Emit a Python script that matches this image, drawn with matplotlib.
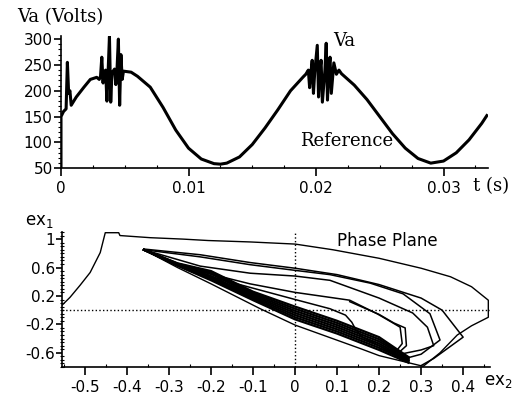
import numpy as np
import matplotlib.pyplot as plt
from matplotlib.ticker import MultipleLocator

# ---- top panel: phase voltage Va ----
t = [0.0, 0.0, 0.0002, 0.0004, 0.0005, 0.0006, 0.0007, 0.0008, 0.0012, 0.0018, 0.0023, 0.0028,
     0.0030, 0.0031, 0.0032, 0.0033, 0.00335, 0.0035, 0.0036, 0.0037, 0.0038, 0.0039, 0.0040,
     0.0042, 0.0043, 0.0044, 0.0045, 0.0046, 0.0047, 0.0048, 0.0049, 0.0055, 0.006, 0.007,
     0.008, 0.009, 0.010, 0.011, 0.012, 0.0125, 0.013, 0.014, 0.015, 0.016, 0.017, 0.018,
     0.0190, 0.0192, 0.0194, 0.0195, 0.0196, 0.0197, 0.0198, 0.0199, 0.0201, 0.0202, 0.0203,
     0.0204, 0.0205, 0.0207, 0.0208, 0.0209, 0.0210, 0.0211, 0.0212, 0.0214, 0.0216, 0.0218,
     0.0220, 0.023, 0.024, 0.025, 0.026, 0.027, 0.028, 0.029, 0.030, 0.031, 0.032, 0.033, 0.0334]
va = [50, 150, 160, 165, 255, 195, 200, 172, 188, 207, 222, 226,
      222, 228, 265, 215, 235, 240, 180, 240, 305, 178, 235,
      242, 212, 245, 300, 172, 270, 222, 238, 236, 228, 207,
      168, 124, 89, 68, 59, 58, 60, 72, 96, 128, 163, 200,
      227, 232, 240, 206, 235, 259, 195, 236, 288, 188, 240,
      259, 178, 240, 292, 182, 240, 265, 195, 254, 232, 240,
      233, 211, 183, 150, 117, 89, 69, 60, 64, 80, 105, 137, 152]

va_ticks = [50, 100, 150, 200, 250, 300]
t_ticks = [0, 0.01, 0.02, 0.03]
t_labels = ['0', '0.01', '0.02', '0.03']

# ---- bottom panel: phase plane trajectories (ex2, ex1) ----
outer_x = [-0.56, -0.536, -0.512, -0.488, -0.464, -0.452, -0.42, -0.417, -0.345, -0.267, -0.207,
           -0.107, 0.0, 0.09, 0.2, 0.3, 0.37, 0.42, 0.46, 0.46, 0.42, 0.386, 0.345, 0.305,
           0.2, 0.155, 0.0, -0.083, -0.2, -0.28, -0.36]
outer_y = [0.04, 0.18, 0.35, 0.53, 0.81, 1.09, 1.09, 1.05, 1.02, 1.0, 0.98,
           0.96, 0.93, 0.85, 0.73, 0.59, 0.47, 0.33, 0.14, -0.1, -0.22, -0.35, -0.6, -0.79,
           -0.64, -0.54, -0.21, 0.02, 0.37, 0.6, 0.85]
a1_x = [-0.36, -0.226, -0.107, 0.0, 0.1, 0.2, 0.3, 0.35, 0.4, 0.33, 0.3]
a1_y = [0.86, 0.78, 0.67, 0.59, 0.5, 0.36, 0.17, 0.0, -0.38, -0.68, -0.78]
a2_x = [-0.36, -0.226, -0.107, 0.0, 0.083, 0.179, 0.257, 0.321, 0.345, 0.3, 0.25]
a2_y = [0.85, 0.75, 0.64, 0.56, 0.5, 0.38, 0.23, -0.05, -0.42, -0.62, -0.7]
b_x = [-0.36, -0.226, -0.107, 0.0, 0.083, 0.2, 0.28, 0.315, 0.33, 0.3, 0.25]
b_y = [0.85, 0.62, 0.52, 0.48, 0.42, 0.17, -0.04, -0.24, -0.5, -0.56, -0.62]
c_x = [-0.36, -0.25, -0.107, 0.0, 0.083, 0.13, 0.195, 0.23, 0.25, 0.255, 0.243, 0.2]
c_y = [0.85, 0.58, 0.37, 0.25, 0.18, 0.14, -0.05, -0.17, -0.24, -0.47, -0.56, -0.55]
c2_x = [0.13, 0.2, 0.235, 0.262, 0.265, 0.25]
c2_y = [0.12, -0.06, -0.18, -0.25, -0.5, -0.58]
d_x = [-0.36, -0.25, -0.107, 0.0, 0.083, 0.12, 0.135, 0.145, 0.16, 0.2, 0.26]
d_y = [0.85, 0.55, 0.32, 0.15, 0.02, -0.07, -0.17, -0.28, -0.38, -0.5, -0.68]
band_x = [-0.36, -0.28, -0.2, -0.1, 0.0, 0.1, 0.2, 0.27]
band_y = [[0.85, 0.66, 0.55, 0.26, 0.05, -0.15, -0.38, -0.66],
          [0.85, 0.655, 0.53, 0.24, 0.02, -0.18, -0.41, -0.67],
          [0.85, 0.65, 0.51, 0.22, -0.01, -0.21, -0.44, -0.68],
          [0.85, 0.64, 0.48, 0.2, -0.04, -0.24, -0.47, -0.7],
          [0.85, 0.635, 0.46, 0.18, -0.07, -0.27, -0.5, -0.71],
          [0.85, 0.63, 0.44, 0.16, -0.1, -0.3, -0.53, -0.72],
          [0.85, 0.625, 0.42, 0.14, -0.13, -0.33, -0.56, -0.74]]

ex1_ticks = [1, 0.6, 0.2, -0.2, -0.6]
ex1_labels = ['1', '0.6', '0.2', '-0.2', '-0.6']
ex2_ticks = [-0.5, -0.4, -0.3, -0.2, -0.1, 0, 0.1, 0.2, 0.3, 0.4]
ex2_labels = ['-0.5', '-0.4', '-0.3', '-0.2', '-0.1', '0', '0.1', '0.2', '0.3', '0.4']

W, H = 523, 397
fig = plt.figure(figsize=(W / 100, H / 100), dpi=100)
serif = 'DejaVu Serif'

# top axes
ax1 = fig.add_axes([61 / W, 1 - 168.3 / H, (488 - 61) / W, (168.3 - 36) / H])
ax1.plot(t, va, color='black', lw=2.2)
ax1.set_xlim(0, 0.03349)
ax1.set_ylim(50, 306)
ax1.set_yticks(va_ticks)
ax1.set_xticks(t_ticks)
ax1.set_xticklabels(t_labels)
ax1.yaxis.set_minor_locator(MultipleLocator(10))
ax1.xaxis.set_minor_locator(MultipleLocator(0.0025))
ax1.tick_params(axis='y', direction='out', length=5, width=1.2, labelsize=11, pad=1)
ax1.tick_params(axis='y', which='minor', direction='out', length=2, width=0.8)
ax1.tick_params(axis='x', direction='out', length=6, width=1.2, labelsize=11, pad=3)
ax1.tick_params(axis='x', which='minor', direction='in', length=2, width=0.8)
for s in ['top', 'right']:
    ax1.spines[s].set_visible(False)
for s in ['left', 'bottom']:
    ax1.spines[s].set_linewidth(1.2)

fig.text(17 / W, 1 - 17 / H, 'Va (Volts)', family=serif, fontsize=13, va='center', ha='left')
fig.text(473 / W, 1 - 186 / H, 't (s)', family=serif, fontsize=13, va='center', ha='left')
fig.text(333 / W, 1 - 41 / H, 'Va', family=serif, fontsize=13, va='center', ha='left')
fig.text(300 / W, 1 - 141 / H, 'Reference', family=serif, fontsize=13, va='center', ha='left')

# bottom axes
ax2 = fig.add_axes([62 / W, 1 - 367 / H, (490 - 62) / W, (367 - 232) / H])
ax2.axhline(0, color='black', ls=':', lw=1.0)
ax2.axvline(0, color='black', ls=':', lw=1.0)
ax2.plot(outer_x, outer_y, color='black', lw=1.0)
for xs, ys in [(a1_x, a1_y), (a2_x, a2_y), (b_x, b_y), (c_x, c_y), (c2_x, c2_y), (d_x, d_y)]:
    ax2.plot(xs, ys, color='black', lw=1.1)
for ys in band_y:
    ax2.plot(band_x, ys, color='black', lw=1.6)
ax2.set_xlim(-0.555, 0.464)
ax2.set_ylim(-0.8, 1.1)
ax2.set_yticks(ex1_ticks)
ax2.set_yticklabels(ex1_labels)
ax2.set_xticks(ex2_ticks)
ax2.set_xticklabels(ex2_labels)
ax2.yaxis.set_minor_locator(MultipleLocator(0.05))
ax2.xaxis.set_minor_locator(MultipleLocator(0.05))
ax2.tick_params(axis='y', direction='out', length=4, width=1.2, labelsize=11, pad=1)
ax2.tick_params(axis='y', which='minor', direction='inout', length=3, width=0.8)
ax2.tick_params(axis='x', direction='out', length=6, width=1.2, labelsize=11, pad=3)
ax2.tick_params(axis='x', which='minor', direction='in', length=2, width=0.8)
for s in ['top', 'right']:
    ax2.spines[s].set_visible(False)
for s in ['left', 'bottom']:
    ax2.spines[s].set_linewidth(1.2)

fig.text(25 / W, 1 - 221 / H, 'ex$_1$', fontsize=12, va='center', ha='left')
fig.text(337 / W, 1 - 241 / H, 'Phase Plane', fontsize=12, va='center', ha='left')
fig.text(484 / W, 1 - 381 / H, 'ex$_2$', fontsize=12, va='center', ha='left')

fig.savefig('out.png', dpi=100)
